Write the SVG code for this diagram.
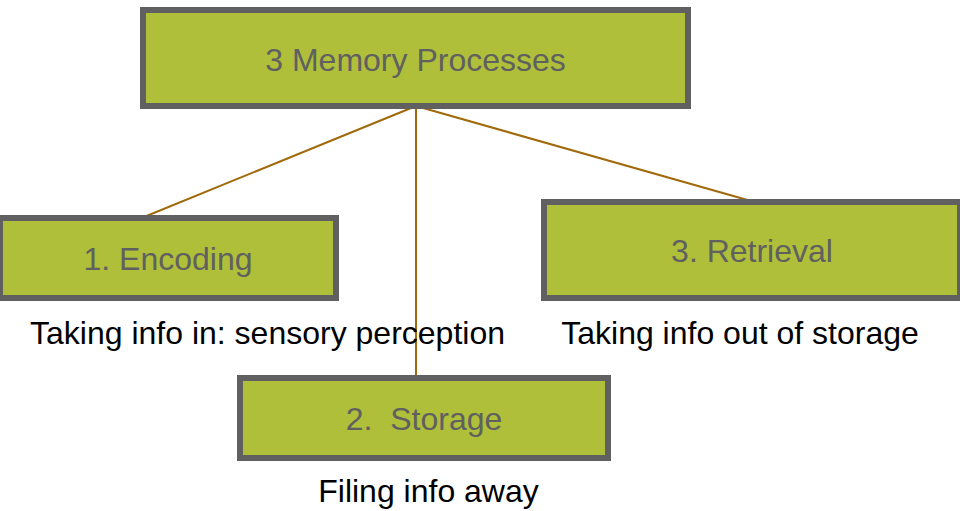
<svg xmlns="http://www.w3.org/2000/svg" width="960" height="511" viewBox="0 0 960 511">
  <style>
    .box rect { fill: #AFBF3A; stroke: #606060; stroke-width: 6; }
    .box text { font-family: "Liberation Sans", Arial, sans-serif; font-size: 32px; fill: #606060; text-anchor: middle; white-space: pre; }
    .caption { font-family: "Liberation Sans", Arial, sans-serif; font-size: 32px; fill: #000000; text-anchor: middle; }
    .links line { stroke: #A0690A; stroke-width: 2; }
  </style>
  <rect width="960" height="511" fill="#FFFFFF"/>

  <!-- connectors from the root box -->
  <g id="connectors" class="links">
    <line x1="416" y1="106" x2="144" y2="217"/>
    <line x1="416" y1="106" x2="416" y2="376"/>
    <line x1="416" y1="106" x2="751" y2="201"/>
  </g>

  <g id="root" class="box">
    <rect x="143" y="10" width="545" height="96"/>
    <text x="415.5" y="71">3 Memory Processes</text>
  </g>

  <g id="encoding" class="box">
    <rect x="0" y="218" width="336" height="80"/>
    <text x="168" y="270">1. Encoding</text>
  </g>

  <g id="retrieval" class="box">
    <rect x="544" y="202" width="416" height="96"/>
    <text x="752" y="262">3. Retrieval</text>
  </g>

  <g id="storage" class="box">
    <rect x="240" y="378" width="368" height="80"/>
    <text x="424" y="430">2.  Storage</text>
  </g>

  <!-- descriptions under each stage -->
  <text class="caption" x="267.5" y="344">Taking info in: sensory perception</text>
  <text class="caption" x="740" y="344">Taking info out of storage</text>
  <text class="caption" x="428.5" y="502">Filing info away</text>
</svg>
